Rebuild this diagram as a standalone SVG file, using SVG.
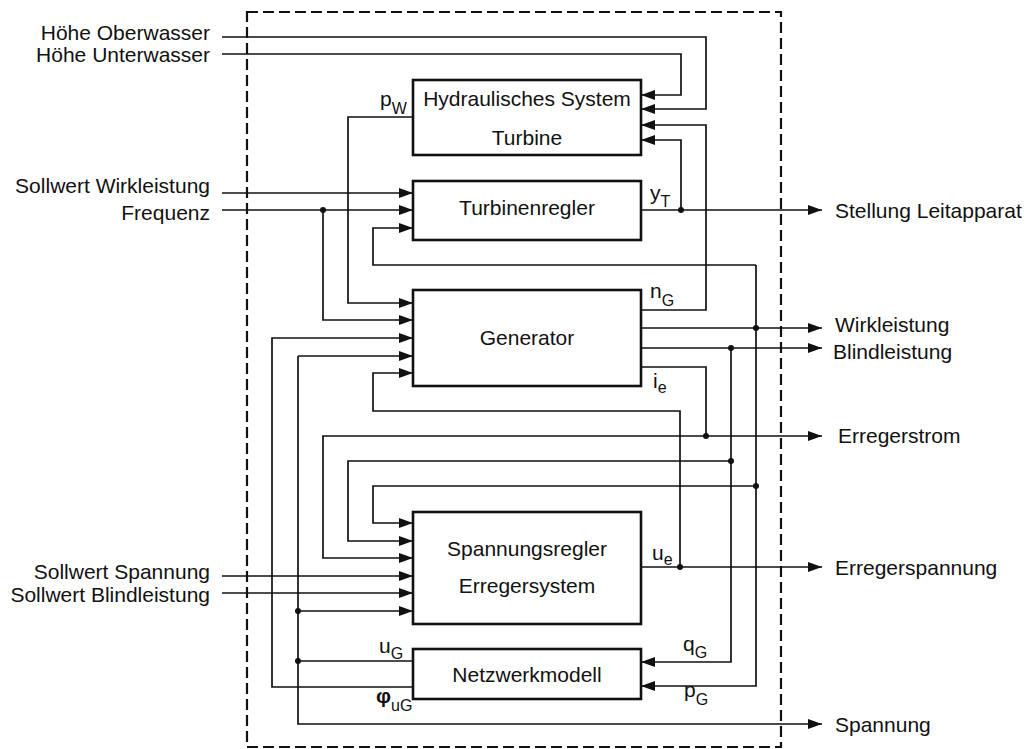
<svg xmlns="http://www.w3.org/2000/svg" width="1027" height="749" viewBox="0 0 1027 749">
<style>
text{font-family:"Liberation Sans",Arial,sans-serif;font-size:21px;fill:#111}
.box{fill:#fff;stroke:#111;stroke-width:2.6}
.c{fill:none;stroke:#111;stroke-width:1.7}
.a{marker-end:url(#ah)}
.d{fill:#111}
.sub{font-size:16px}
.mid{text-anchor:middle}
.end{text-anchor:end}
</style>
<defs>
<marker id="ah" markerUnits="userSpaceOnUse" markerWidth="14" markerHeight="10" refX="14" refY="5" orient="auto">
<path d="M0,0 L14,5 L0,10 Z" fill="#111"/>
</marker>
</defs>
<rect x="247" y="12" width="534" height="735" fill="none" stroke="#111" stroke-width="2.2" stroke-dasharray="11 5"/>
<g id="connectors">
<path class="c a" d="M222,37 H706 V109 H641"/>
<path class="c a" d="M222,54 H681 V95 H641"/>
<path class="c a" d="M222,193 H413"/>
<path class="c a" d="M222,210 H413"/>
<path class="c a" d="M323,210 V320 H413"/>
<path class="c a" d="M413,117 H348 V303 H413"/>
<path class="c a" d="M641,210 H822"/>
<path class="c a" d="M681,210 V140 H641"/>
<path class="c a" d="M641,310 H706 V125 H641"/>
<path class="c a" d="M641,328 H822"/>
<path class="c a" d="M756,265 V686 H641"/>
<path class="c a" d="M756,265 H373 V228 H413"/>
<path class="c a" d="M641,348 H822"/>
<path class="c a" d="M731,348 V662 H641"/>
<path class="c a" d="M731,461 H348 V541 H413"/>
<path class="c a" d="M756,486 H373 V523 H413"/>
<path class="c" d="M641,367 H706 V436"/>
<path class="c a" d="M706,436 H822"/>
<path class="c a" d="M706,436 H323 V558 H413"/>
<path class="c a" d="M641,567 H822"/>
<path class="c a" d="M680,567 V411 H373 V373 H413"/>
<path class="c a" d="M222,576 H413"/>
<path class="c a" d="M222,593 H413"/>
<path class="c" d="M413,661 H298"/>
<path class="c a" d="M298,356 V724 H822"/>
<path class="c a" d="M298,356 H413"/>
<path class="c a" d="M298,611 H413"/>
<path class="c a" d="M413,687 H272 V338 H413"/>
<circle class="d" cx="323" cy="210" r="3"/>
<circle class="d" cx="681" cy="210" r="3"/>
<circle class="d" cx="756" cy="328" r="3"/>
<circle class="d" cx="731" cy="348" r="3"/>
<circle class="d" cx="706" cy="436" r="3"/>
<circle class="d" cx="731" cy="461" r="3"/>
<circle class="d" cx="756" cy="486" r="3"/>
<circle class="d" cx="680" cy="567" r="3"/>
<circle class="d" cx="298" cy="611" r="3"/>
<circle class="d" cx="298" cy="661" r="3"/>
</g>
<g id="hydraulik">
<rect class="box" x="413" y="80" width="228" height="75"/>
<text class="mid" x="527" y="106">Hydraulisches System</text>
<text class="mid" x="527" y="145">Turbine</text>
</g>
<g id="turbinenregler">
<rect class="box" x="413" y="181" width="228" height="59"/>
<text class="mid" x="527" y="215">Turbinenregler</text>
</g>
<g id="generator">
<rect class="box" x="413" y="290" width="228" height="96"/>
<text class="mid" x="527" y="345">Generator</text>
</g>
<g id="spannungsregler">
<rect class="box" x="413" y="512" width="228" height="112"/>
<text class="mid" x="527" y="556">Spannungsregler</text>
<text class="mid" x="527" y="593">Erregersystem</text>
</g>
<g id="netzwerkmodell">
<rect class="box" x="413" y="649" width="228" height="50"/>
<text class="mid" x="527" y="682">Netzwerkmodell</text>
</g>
<g id="labels">
<text class="end" x="210" y="40">Höhe Oberwasser</text>
<text class="end" x="210" y="62">Höhe Unterwasser</text>
<text class="end" x="210" y="193">Sollwert Wirkleistung</text>
<text class="end" x="210" y="220">Frequenz</text>
<text class="end" x="210" y="579">Sollwert Spannung</text>
<text class="end" x="210" y="602">Sollwert Blindleistung</text>
<text x="835" y="218">Stellung Leitapparat</text>
<text x="835" y="332">Wirkleistung</text>
<text x="833" y="359">Blindleistung</text>
<text x="838" y="443">Erregerstrom</text>
<text x="835" y="575">Erregerspannung</text>
<text x="835" y="732">Spannung</text>
<text x="380" y="106">p<tspan class="sub" dy="8">W</tspan></text>
<text x="650" y="200">y<tspan class="sub" dy="7">T</tspan></text>
<text x="650" y="298">n<tspan class="sub" dy="8">G</tspan></text>
<text x="653" y="388">i<tspan class="sub" dy="5">e</tspan></text>
<text x="652" y="560">u<tspan class="sub" dy="5">e</tspan></text>
<text x="683" y="651">q<tspan class="sub" dy="7">G</tspan></text>
<text x="684" y="697">p<tspan class="sub" dy="8">G</tspan></text>
<text x="379" y="653">u<tspan class="sub" dy="6">G</tspan></text>
<text x="376" y="703" font-weight="bold">φ<tspan class="sub" font-weight="normal" dy="8">uG</tspan></text>
</g>
</svg>
